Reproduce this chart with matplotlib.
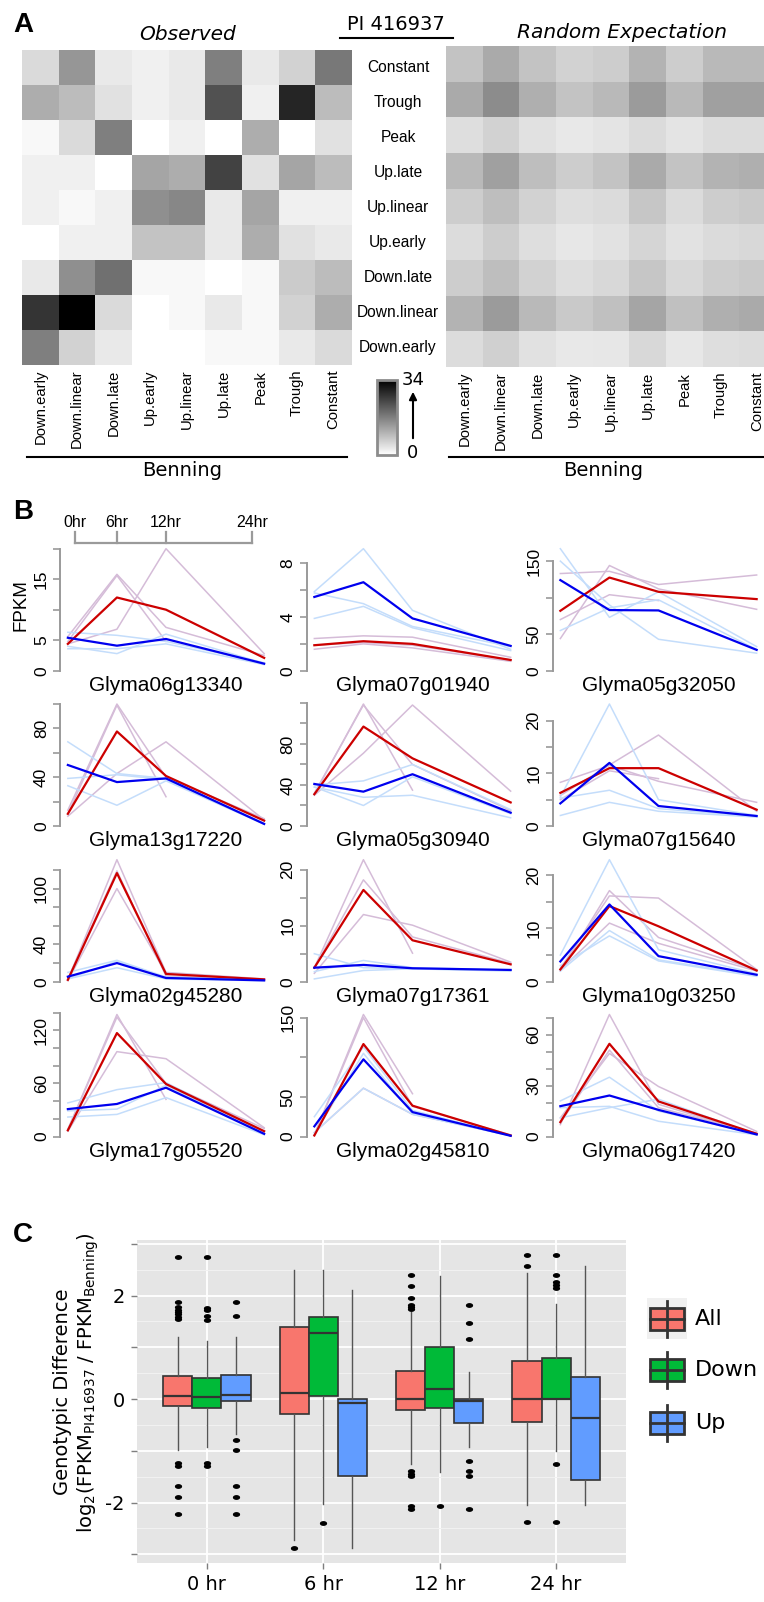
import numpy as np
import matplotlib
matplotlib.use("Agg")
import matplotlib.pyplot as plt
import matplotlib.transforms as mtrans
from matplotlib.colors import LinearSegmentedColormap
from matplotlib.patches import Rectangle
from matplotlib.path import Path

W, H = 764, 1602
nan = np.nan

# ---------------- panel A data ----------------
row_classes = ["Constant", "Trough", "Peak", "Up.late", "Up.linear", "Up.early",
               "Down.late", "Down.linear", "Down.early"]
col_classes = ["Down.early", "Down.linear", "Down.late", "Up.early", "Up.linear",
               "Up.late", "Peak", "Trough", "Constant"]
observed = np.array([
    [5, 14, 3, 2, 3, 17, 3, 6, 18],
    [11, 9, 4, 2, 3, 23, 2, 29, 9],
    [1, 5, 17, 0, 2, 0, 11, 0, 4],
    [2, 2, 0, 12, 11, 25, 4, 12, 9],
    [2, 1, 2, 15, 16, 3, 12, 2, 2],
    [0, 2, 2, 8, 8, 3, 11, 4, 3],
    [3, 15, 19, 1, 1, 0, 1, 7, 9],
    [27, 34, 5, 0, 1, 3, 1, 6, 11],
    [17, 6, 3, 0, 0, 1, 1, 3, 5],
])
expected = np.array([
    [8.0, 11.3, 8.0, 6.0, 6.7, 10.0, 6.7, 9.3, 9.3],
    [11.3, 15.3, 10.7, 8.0, 9.3, 13.3, 9.3, 12.7, 12.7],
    [4.4, 6.0, 4.0, 3.1, 3.6, 4.9, 3.6, 4.7, 4.7],
    [9.3, 12.7, 8.7, 6.7, 8.0, 11.3, 8.0, 10.0, 10.7],
    [6.7, 8.7, 6.0, 4.4, 4.9, 7.6, 4.9, 6.7, 7.3],
    [4.7, 6.7, 4.4, 3.3, 3.9, 5.7, 3.9, 4.9, 5.3],
    [6.7, 8.7, 6.0, 4.4, 5.2, 7.6, 5.2, 6.7, 7.3],
    [10.0, 13.3, 9.3, 7.3, 8.4, 12.0, 8.4, 10.7, 11.3],
    [4.7, 6.3, 4.0, 3.1, 3.3, 5.3, 3.3, 4.4, 4.7],
])
count_max = 34

# ---------------- panel B data ----------------
hours = [0, 6, 12, 24]
genes = ["Glyma06g13340", "Glyma07g01940", "Glyma05g32050",
         "Glyma13g17220", "Glyma05g30940", "Glyma07g15640",
         "Glyma02g45280", "Glyma07g17361", "Glyma10g03250",
         "Glyma17g05520", "Glyma02g45810", "Glyma06g17420"]
pi_mean = [
    [4.4, 12.0, 10.0, 2.1], [1.9, 2.2, 2.0, 0.8], [82, 127.5, 108, 98],
    [10, 77.5, 41, 4.4], [31, 97, 66, 23], [6.3, 11.0, 11.0, 3.1],
    [2, 116.6, 8.3, 2.5], [2.5, 16.4, 7.4, 3.1], [2.3, 14.2, 10.4, 2.1],
    [7, 117, 59.4, 6], [1.3, 116.7, 38.9, 1.3], [8.5, 54.7, 20.7, 1.6],
]
benning_mean = [
    [5.4, 4.1, 5.2, 1.15], [5.5, 6.6, 3.9, 1.85], [124, 83, 82.5, 28.5],
    [50, 36, 39, 1.7], [41, 33.5, 50.5, 13], [4.3, 12.0, 3.8, 1.9],
    [5.4, 20, 4, 1.4], [2.5, 3.0, 2.4, 2.1], [3.8, 14.5, 4.8, 1.3],
    [31, 36.8, 55.2, 3], [12.8, 97.4, 30.8, 0.9], [17.9, 24.2, 15.7, 1.2],
]
pi_reps = [
    [[5.6, 15.8, 7.1, 2.5], [4.4, 6.8, 20.0, 2.8], [4.8, 15.6, 4.8, nan]],
    [[2.4, 2.6, 2.5, 1.0], [1.9, 2.1, 1.9, 0.8], [1.6, 2.0, 1.7, 0.7]],
    [[133, 136, 118, 131], [44, 144, 112, 84], [70, 104, 96, nan]],
    [[13, 100, 40, 6], [10, 99, 24, nan], [8, 43, 69, 5]],
    [[31, 119, 35, nan], [30, 71, 118, 34], [32, 118, 60, 15]],
    [[8.3, 11.5, 8.5, 4.5], [5.8, 11.6, 17.3, 2.8], [5.0, 10.5, 9.0, nan]],
    [[2, 131, 10, 3], [3, 119, 6, 2], [1, 100, 9, 2]],
    [[2.5, 21.8, 5.1, nan], [2.5, 18.2, 8.0, 3.3], [1.5, 12.0, 10.1, 3.5]],
    [[2.0, 17.1, 8.3, 2.2], [2.5, 16.1, 15.7, 2.3], [2.2, 11.0, 7.2, 2.0]],
    [[8, 138, 42, nan], [8, 135, 60, 9], [6, 96, 88, 10]],
    [[2, 154, 54, nan], [2, 150, 38, 2], [5, 61, 28, 1.5]],
    [[7, 72, 19, 1.5], [11, 49, 29.5, 3], [8, 51, 17, 2]],
]
benning_reps = [
    [[6.3, 5.8, 4.8, 1.3], [4.0, 2.8, 6.0, 1.2], [3.6, 3.6, 4.4, 1.0]],
    [[5.9, 9.1, 4.5, 1.6], [5.8, 5.0, 3.3, 1.8], [3.9, 4.8, 3.2, 1.5]],
    [[167, 73, 108, 33], [55, 86, 97, 29], [150, 90, 43, 24]],
    [[69, 43, 39, 2], [39, 42, 38, 2], [33, 17, 37, 1.5]],
    [[40, 44, 60, 16], [38, 20, 48, 12], [38, 28, 30, 8]],
    [[5.5, 23.2, 5.0, 2.0], [5.3, 6.8, 3.3, 1.8], [2.0, 4.5, 2.8, 1.7]],
    [[10, 23, 5, 1.5], [3, 15, 3, 1], [3, 22, 4, 1.5]],
    [[5.0, 2.5, 2.3, 2.0], [1.8, 3.8, 2.5, 2.1], [0.5, 2.0, 2.3, 1.9]],
    [[5.0, 22.9, 6.0, 1.5], [2.0, 9.6, 4.1, 1.2], [3.0, 8.6, 3.9, 1.0]],
    [[38, 53, 61, 4], [29, 31, 58, 3], [22, 25, 44, 2]],
    [[25, 113, 33, 1], [3, 105, 29, 1], [5, 61, 28, 1]],
    [[21, 35, 15, 1.5], [11, 17, 22, 1], [17, 17.8, 9, 1]],
]
tick_step = [5, 2, 50, 20, 20, 5, 20, 5, 5, 20, 50, 10]
tick_shown = [[0, 5, 15], [0, 4, 8], [0, 50, 150], [0, 40, 80], [0, 40, 80], [0, 10, 20],
              [0, 40, 100], [0, 10, 20], [0, 10, 20], [0, 60, 120], [0, 50, 150], [0, 30, 60]]

# ---------------- panel C data ----------------
times = ["0 hr", "6 hr", "12 hr", "24 hr"]
groups = ["All", "Down", "Up"]
group_colors = ["#F8766D", "#00BA38", "#619CFF"]
box_q1 = [[-0.14, -0.17, -0.03], [-0.28, 0.065, -1.49], [-0.22, -0.17, -0.46], [-0.44, 0.0, -1.56]]
box_med = [[0.05, 0.03, 0.08], [0.12, 1.27, -0.08], [0.0, 0.19, -0.03], [0.0, 0.0, -0.37]]
box_q3 = [[0.44, 0.40, 0.47], [1.40, 1.59, 0.0], [0.55, 1.0, 0.0], [0.74, 0.79, 0.42]]
whis_lo = [[-0.98, -0.92, -0.67], [-2.73, -2.02, -2.88], [-1.26, -1.42, -0.92], [-2.04, -1.0, -2.04]]
whis_hi = [[1.20, 1.12, 1.20], [2.5, 2.5, 2.1], [1.69, 2.38, 0.52], [2.43, 1.83, 2.57]]
outliers = [
    [[2.75, 1.87, 1.78, 1.73, 1.69, 1.64, 1.59, 1.54, -1.23, -1.29, -1.69, -1.89, -2.22],
     [2.75, 1.76, 1.72, 1.60, 1.53, -1.23, -1.29],
     [1.87, 1.60, -0.80, -0.98, -1.69, -1.89, -2.22]],
    [[-2.88], [-2.40], []],
    [[2.39, 2.18, 1.96, 1.82, 1.78, 1.74, -1.40, -1.44, -1.48, -2.06, -2.13],
     [-2.06],
     [1.82, 1.46, 1.16, -1.20, -1.40, -1.48, -2.13]],
    [[2.79, 2.57, -2.37],
     [2.79, 2.39, 2.26, 2.20, 2.14, -1.25, -2.37],
     []],
]

RFONT = "Liberation Sans"


def px_rect(l, t, w, h):
    return [l / W, 1 - (t + h) / H, w / W, h / H]


fig = plt.figure(figsize=(W / 100, H / 100), dpi=100)
ov = fig.add_axes([0, 0, 1, 1], zorder=10)
ov.axis("off")

# ================= panel A =================
cmap = LinearSegmentedColormap.from_list("w2k", ["#ffffff", "#000000"])
axL = fig.add_axes(px_rect(22, 50, 330, 315))
im = axL.imshow(observed, cmap=cmap, vmin=0, vmax=count_max, aspect="auto", interpolation="nearest")
axR = fig.add_axes(px_rect(446, 46, 330, 321))
axR.imshow(expected, cmap=cmap, vmin=0, vmax=count_max, aspect="auto", interpolation="nearest")
for ax in (axL, axR):
    ax.set_xticks(range(len(col_classes)))
    ax.set_xticklabels(col_classes, rotation=90, fontsize=10.7, family=RFONT)
    ax.set_yticks([])
    ax.tick_params(axis="x", length=0, pad=3.5)
    for s in ax.spines.values():
        s.set_visible(False)

for i, lab in enumerate(row_classes):
    ov.text(398, 50 + (i + 0.5) * 35, lab, ha="center", va="center", fontsize=11.2, family=RFONT)

ov.text(23, 25, "A", ha="center", va="center", fontsize=20, fontweight="bold", family=RFONT)
ov.text(188, 34, "Observed", ha="center", va="center", fontsize=14.5, style="italic")
ov.text(622, 32, "Random Expectation", ha="center", va="center", fontsize=14.5, style="italic")
ov.text(396, 24, "PI 416937", ha="center", va="center", fontsize=14)
ov.plot([340, 453], [37.7, 37.7], color="black", lw=1.5)
ov.plot([27, 347], [457.3, 457.3], color="black", lw=1.5)
ov.plot([449, 764], [456.7, 456.7], color="black", lw=1.5)
ov.text(182, 470, "Benning", ha="center", va="center", fontsize=14)
ov.text(603, 470, "Benning", ha="center", va="center", fontsize=14)

cax = fig.add_axes(px_rect(377, 380, 20, 75))
cb = fig.colorbar(im, cax=cax)
cb.set_ticks([])
cb.outline.set_edgecolor("#8c8c8c")
cb.outline.set_linewidth(2)
ov.text(413, 380, str(count_max), ha="center", va="center", fontsize=13)
ov.text(413, 453, "0", ha="center", va="center", fontsize=13)
ov.annotate("", xy=(413, 389), xytext=(413, 441),
            arrowprops=dict(arrowstyle="-|>", color="black", lw=1.5, mutation_scale=11))

# ================= panel B =================
col_left = [60, 306.5, 552.5]
row_zero = [670.7, 826, 981.7, 1136.5]
span = 122.0
ax_w = 212
thistle = "#d5bcd8"
lightblue = "#c4ddfb"
axes_b = []
for g, gene in enumerate(genes):
    r, c = divmod(g, 3)
    y0 = row_zero[r]
    ax = fig.add_axes(px_rect(col_left[c], y0 - span * 1.04, ax_w, span * 1.08))
    axes_b.append(ax)
    ax.patch.set_alpha(0)
    for rep in pi_reps[g]:
        ax.plot(hours, rep, color=thistle, lw=1.1)
    for rep in benning_reps[g]:
        ax.plot(hours, rep, color=lightblue, lw=1.1)
    ax.plot(hours, pi_mean[g], color="#cc0000", lw=1.6)
    ax.plot(hours, benning_mean[g], color="#0000ee", lw=1.6)
    top = np.nanmax(np.concatenate([np.ravel(pi_reps[g]), np.ravel(benning_reps[g]),
                                    pi_mean[g], benning_mean[g]]))
    ax.set_xlim(-0.96, 24.96)
    ax.set_ylim(-0.04 * top, 1.04 * top)
    ticks = np.arange(0, 1.04 * top + 1e-9, tick_step[g])
    ax.set_yticks(ticks)
    ax.set_yticklabels([("%g" % t) if t in tick_shown[g] else "" for t in ticks], family=RFONT)
    ax.tick_params(axis="y", colors="#9a9a9a", labelcolor="black", length=5, width=1.2,
                   labelsize=12.5, pad=3, labelrotation=90)
    for lab in ax.get_yticklabels():
        lab.set_va("center")
    ax.set_xticks([])
    for side in ("top", "right", "bottom"):
        ax.spines[side].set_visible(False)
    ax.spines["left"].set_color("#9a9a9a")
    ax.spines["left"].set_linewidth(1.4)
    ax.spines["left"].set_bounds(0, ticks[-1])
    ov.text(col_left[c] + ax_w / 2, y0 + 15, gene, ha="center", va="center", fontsize=15, family=RFONT)

ov.text(23, 512, "B", ha="center", va="center", fontsize=20, fontweight="bold", family=RFONT)
ov.text(20.7, 605, "FPKM", ha="center", va="center", rotation=90, fontsize=13.5, family=RFONT)

# time scale above the first plot
bar_hours = [0.9, 6, 12, 22.5]
bt = mtrans.blended_transform_factory(axes_b[0].transData, ov.transData)
ov.plot([bar_hours[0], bar_hours[-1]], [543.3, 543.3], color="#9a9a9a", lw=1.6, transform=bt)
for bh, lab in zip(bar_hours, ["0hr", "6hr", "12hr", "24hr"]):
    ov.plot([bh, bh], [543.3, 531.7], color="#9a9a9a", lw=1.6, transform=bt)
    ov.text(bh, 522.7, lab, ha="center", va="center", fontsize=11.4, family=RFONT, transform=bt)

# ================= panel C =================
pc = fig.add_axes(px_rect(137, 1240, 489, 322.7))
pc.set_facecolor("#e5e5e5")
t = np.linspace(0, 2 * np.pi, 25)
dot = Path(np.column_stack([1.7 * np.cos(t), np.sin(t)]), closed=True)
offsets = [-0.25, 0, 0.25]
for k, grp in enumerate(groups):
    stats = []
    pos = []
    for i in range(len(times)):
        stats.append(dict(med=box_med[i][k], q1=box_q1[i][k], q3=box_q3[i][k],
                          whislo=whis_lo[i][k], whishi=whis_hi[i][k], fliers=outliers[i][k]))
        pos.append(i + 1 + offsets[k])
    pc.bxp(stats, positions=pos, widths=0.25, patch_artist=True, showcaps=False,
           boxprops=dict(facecolor=group_colors[k], edgecolor="#333333", lw=1.2),
           medianprops=dict(color="#333333", lw=1.6),
           whiskerprops=dict(color="#555555", lw=1.0),
           flierprops=dict(marker=dot, markerfacecolor="black", markeredgecolor="black",
                           markersize=4.2, linestyle="none"), manage_ticks=False)

all_vals = np.concatenate([np.ravel(whis_lo), np.ravel(whis_hi),
                           np.concatenate([np.ravel(o) for row in outliers for o in row])])
lo, hi = all_vals.min(), all_vals.max()
pad = 0.05 * (hi - lo)
pc.set_ylim(lo - pad, hi + pad)
pc.set_xlim(0.4, 4.6)
pc.set_xticks(range(1, 5))
pc.set_xticklabels(times, fontsize=14)
pc.set_yticks(range(-3, 4))
pc.set_yticklabels(["", "-2", "", "0", "", "2", ""], fontsize=14)
pc.set_yticks(np.arange(-2.5, 3.0, 1.0), minor=True)
pc.tick_params(which="major", colors="#7f7f7f", labelcolor="black", length=4, width=1, pad=5)
pc.tick_params(which="minor", length=0)
pc.grid(True, which="major", color="white", lw=1.3)
pc.grid(True, which="minor", axis="y", color="#f2f2f2", lw=0.7)
pc.set_axisbelow(True)
for s in pc.spines.values():
    s.set_visible(False)

ov.text(23, 1235, "C", ha="center", va="center", fontsize=20, fontweight="bold", family=RFONT)
ov.text(63, 1392, "Genotypic Difference", ha="center", va="center", rotation=90, fontsize=14)
ov.text(88, 1383, r"log$_2$(FPKM$_{\mathregular{PI416937}}$ / FPKM$_{\mathregular{Benning}}$)",
        ha="center", va="center", rotation=90, fontsize=14)

# legend
key_y = [1318.7, 1369.7, 1423.3]
ov.add_patch(Rectangle((646.7, 1298), 40.6, 41, facecolor="#f0f0f0", edgecolor="none"))
for k, grp in enumerate(groups):
    yc = key_y[k]
    ov.plot([667, 667], [yc - 18, yc + 18], color="#333333", lw=2)
    ov.add_patch(Rectangle((650, yc - 11), 34, 22, facecolor=group_colors[k], edgecolor="#333333", lw=2))
    ov.plot([650, 684], [yc, yc], color="#333333", lw=2)
    ov.text(695, yc, grp, ha="left", va="center", fontsize=16)

ov.set_xlim(0, W)
ov.set_ylim(H, 0)

fig.savefig("out.png", dpi=100)
